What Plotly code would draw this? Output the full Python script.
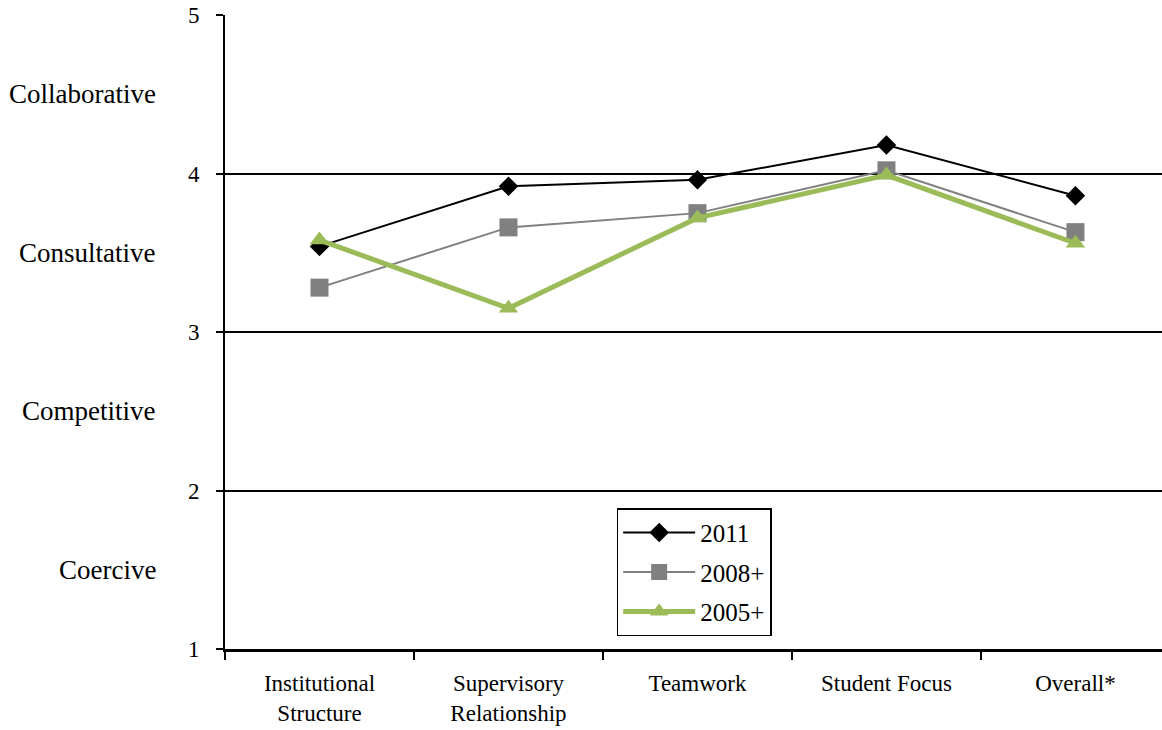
import plotly.graph_objects as go

categories = ["Institutional<br>Structure", "Supervisory<br>Relationship", "Teamwork",
              "Student Focus", "Overall*"]
series_names = ["2011", "2008+", "2005+"]
values_2011 = [3.54, 3.92, 3.96, 4.18, 3.86]
values_2008 = [3.28, 3.66, 3.75, 4.02, 3.63]
values_2005 = [3.58, 3.15, 3.72, 3.99, 3.56]
level_labels = ["Coercive", "Competitive", "Consultative", "Collaborative"]
level_positions = [1.5, 2.5, 3.5, 4.5]
y_ticks = [1, 2, 3, 4, 5]

FONT = "Liberation Serif"

styles = [
    dict(color="#000000", width=2, symbol="diamond", size=15),
    dict(color="#808080", width=2, symbol="square", size=18),
    dict(color="#9BBB59", width=5, symbol="triangle-up", size=17),
]

fig = go.Figure()
for name, vals, st in zip(series_names, [values_2011, values_2008, values_2005], styles):
    fig.add_trace(go.Scatter(
        x=categories, y=vals, name=name, mode="lines+markers",
        legendgroup=name,
        line=dict(color=st["color"], width=st["width"]),
        marker=dict(color=st["color"], symbol=st["symbol"], size=st["size"]),
    ))

for lbl, pos in zip(level_labels, level_positions):
    fig.add_annotation(text=lbl, x=-0.072, xref="paper", y=pos, yref="y",
                       xanchor="right", yanchor="middle", showarrow=False,
                       font=dict(family=FONT, size=27, color="black"))

fig.update_layout(
    width=1162, height=730,
    margin=dict(l=225, r=0, t=15, b=81),
    paper_bgcolor="white", plot_bgcolor="white",
    font=dict(family=FONT, size=23, color="black"),
    showlegend=True,
    legend=dict(x=0.418, y=0.222, xanchor="left", yanchor="top",
                bordercolor="black", borderwidth=1.5, bgcolor="white",
                font=dict(family=FONT, size=25, color="black"),
                tracegroupgap=4, traceorder="grouped", itemwidth=72),
)
fig.update_xaxes(
    type="category", range=[-0.5, 4.458], automargin=False,
    showline=True, linecolor="black", linewidth=3,
    ticks="outside", tickson="boundaries", ticklen=8, tickcolor="black", tickwidth=2,
    showgrid=False, tickfont=dict(family=FONT, size=23, color="black"),
    ticklabelstandoff=11,
)
fig.update_yaxes(
    range=[1, 5], tickvals=y_ticks, automargin=False,
    showline=True, linecolor="black", linewidth=2,
    ticks="outside", ticklen=7, tickcolor="black", tickwidth=2,
    showgrid=True, gridcolor="black", gridwidth=2, zeroline=False,
    tickfont=dict(family=FONT, size=23, color="black"),
    ticklabelstandoff=12,
)

fig.write_html("out.html")
